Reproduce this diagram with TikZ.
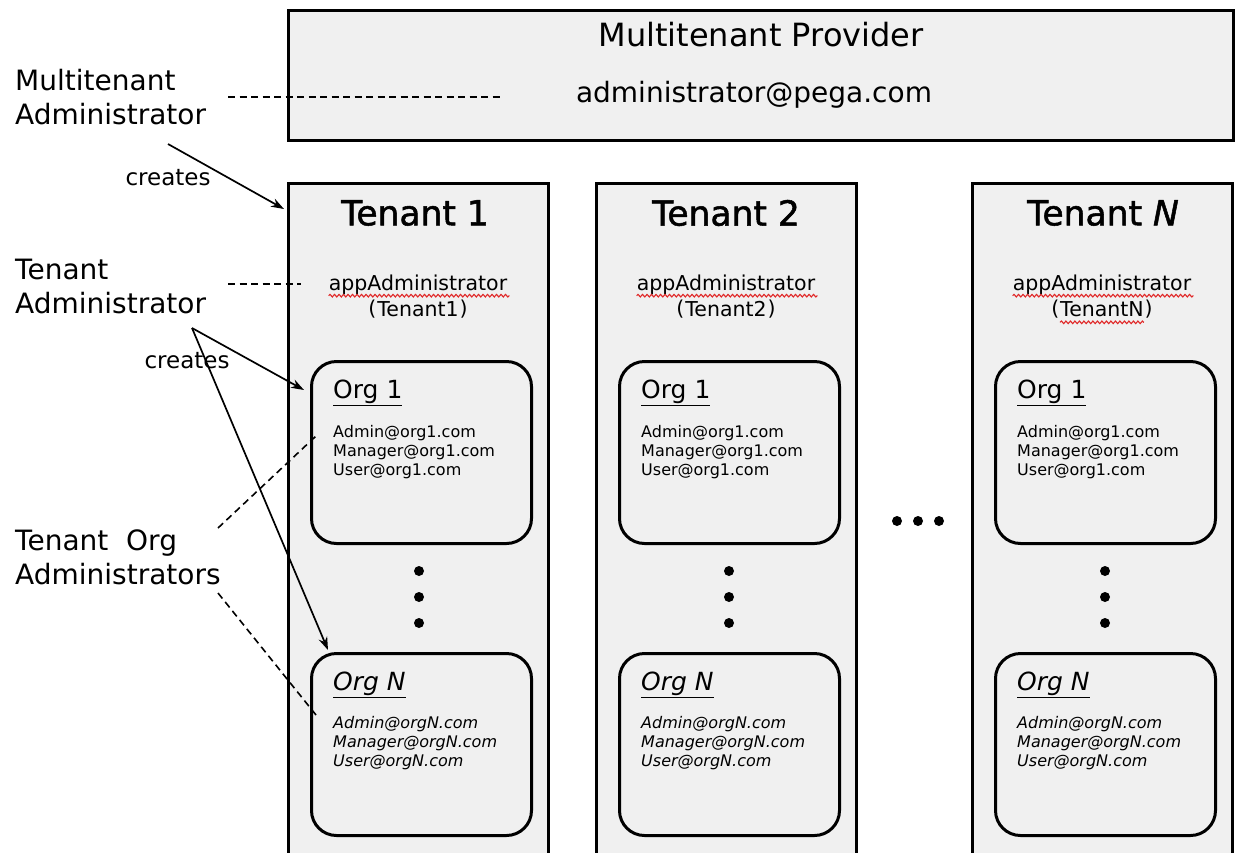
\documentclass[tikz,border=0pt]{standalone}
\usepackage{fontspec}
\setmainfont{DejaVu Sans}
\newfontfamily\tenantfont[FakeBold=1.5]{DejaVu Sans}
\usetikzlibrary{arrows.meta,decorations.pathmorphing,calc,positioning}
\definecolor{panelgray}{HTML}{F0F0F0}
\definecolor{wavyred}{HTML}{E02828}
\begin{document}
\begin{tikzpicture}[x=1pt,y=-1pt,
  panel/.style={draw=black,line width=3pt,fill=panelgray,inner sep=0pt,outer sep=0pt},
  tenantbox/.style={panel,anchor=north west,minimum width=260pt,minimum height=720pt},
  orgbox/.style={draw=black,line width=3pt,fill=panelgray,rounded corners=25pt,anchor=north west,minimum width=220pt,minimum height=182pt,inner sep=0pt},
  provtitle/.style={font=\fontsize{32}{38}\selectfont,inner sep=0pt},
  provmail/.style={font=\fontsize{28}{34}\selectfont,inner sep=0pt},
  sidelabel/.style={font=\fontsize{28}{34}\selectfont,align=left,anchor=west,inner sep=0pt},
  verblabel/.style={font=\fontsize{23}{27}\selectfont,inner sep=0pt},
  tenanttitle/.style={font=\tenantfont\fontsize{34.5}{40}\selectfont,inner sep=0pt},
  appadmin/.style={font=\fontsize{20.5}{24}\selectfont,inner sep=0pt},
  orgtitle/.style={font=\fontsize{25}{30}\selectfont,anchor=west,inner sep=0pt},
  emails/.style={font=\fontsize{16}{19}\selectfont,align=left,anchor=north west,inner sep=0pt},
  wavy/.style={draw=wavyred,line width=1.1pt,decorate,decoration={snake,amplitude=1.3pt,segment length=4.5pt}},
  vdot/.style={circle,fill=black,inner sep=0pt,minimum size=10pt},
  dashline/.style={line width=1.6pt,dash pattern=on 7pt off 4.5pt},
  creates/.style={-{Stealth[length=13pt,width=9pt]},line width=1.7pt},
]
\useasboundingbox (0,0) rectangle (1235,852);
\clip (0,0) rectangle (1235,852);

% provider
\node[panel,anchor=north west,minimum width=945pt,minimum height=130pt] (prov) at (288,10) {};
\node[provtitle] (provname) at (761,35) {Multitenant Provider};
\node[provmail] (provmail) at (754,95) {administrator@pega.com};

% tenants
\foreach \id/\x/\tn in {1/288/Tenant1, 2/596/Tenant2, N/972/TenantN} {
  \node[tenantbox] (t\id) at (\x,183) {};
  \node[appadmin] (t\id-app) at ($(t\id.north)+(0,102)$) {appAdministrator};
  \draw[wavy] ($(t\id-app.base west)+(0,5)$) -- ($(t\id-app.base east)+(2,5)$);
  \node[appadmin] (t\id-tn) at ($(t\id.north)+(0,126)$) {\tn};
  \node[appadmin,left=0.5pt of t\id-tn] (t\id-lp) {(};
  \node[appadmin,right=0.5pt of t\id-tn] (t\id-rp) {)};
  % org 1
  \node[orgbox] (t\id-o1) at ($(t\id.north west)+(22,177)$) {};
  \node[orgtitle] (t\id-o1t) at ($(t\id-o1.north west)+(23,33)$) {\underline{Org 1}};
  \node[emails] (t\id-o1m) at ($(t\id-o1.north west)+(23,65)$) {Admin@org1.com\\Manager@org1.com\\User@org1.com};
  % org N
  \node[orgbox] (t\id-oN) at ($(t\id.north west)+(22,469)$) {};
  \node[orgtitle,font=\fontsize{25}{30}\selectfont\itshape] (t\id-oNt) at ($(t\id-oN.north west)+(23,33)$) {\underline{Org N}};
  \node[emails,font=\fontsize{16}{19}\selectfont\itshape] (t\id-oNm) at ($(t\id-oN.north west)+(23,64)$) {Admin@orgN.com\\Manager@orgN.com\\User@orgN.com};
}
% vertical dots
\foreach \id/\dx in {1/1, 2/3, N/3} {
  \node[vdot] (t\id-d1) at ($(t\id.north)+(\dx,388)$) {};
  \node[vdot] (t\id-d2) at ($(t\id.north)+(\dx,414)$) {};
  \node[vdot] (t\id-d3) at ($(t\id.north)+(\dx,440)$) {};
}
\node[tenanttitle] (t1-title) at ($(t1.north)+(-3,30)$) {Tenant 1};
\node[tenanttitle] (t2-title) at ($(t2.north)+(0,30)$) {Tenant 2};
\node[tenanttitle] (tN-title) at ($(tN.north)+(1,30)$) {Tenant \textit{N}};
\draw[wavy] ($(tN-tn.base west)+(0,6)$) -- ($(tN-tn.base east)+(0,6)$);

% horizontal dots
\node[vdot] (h1) at (897,521) {};
\node[vdot] (h2) at (918,521) {};
\node[vdot] (h3) at (939,521) {};

% side labels
\node[sidelabel] (mta) at (15,97) {Multitenant\\Administrator};
\node[sidelabel] (ta) at (15,286) {Tenant\\Administrator};
\node[sidelabel] (toa) at (15,557) {Tenant~~Org\\Administrators};

% dashed leaders
\coordinate (mta-e) at (228,97);
\coordinate (mta-f) at (500,97);
\draw[dashline] (mta-e) -- (mta-f);
\coordinate (ta-e) at (228,284);
\coordinate (ta-f) at (301,284);
\draw[dashline] (ta-e) -- (ta-f);
\coordinate (toa-a) at (218,528);
\coordinate (toa-b) at (218,593);
\coordinate (toa-c) at (316,436);
\coordinate (toa-d) at (316,715);
\draw[dashline] (toa-a) -- (toa-c);
\draw[dashline] (toa-b) -- (toa-d);

% creates arrows
\coordinate (mta-s) at (168,144);
\draw[creates] (mta-s) -- ($(t1.north west)+(-4,26)$);
\node[verblabel] (cr1) at (168,178) {creates};
\coordinate (ta-s) at (192,328);
\draw[creates] (ta-s) -- ($(t1-o1.north west)+(-6,30)$);
\draw[creates] (ta-s) -- ($(t1-oN.north west)+(18,-2)$);
\node[verblabel] (cr2) at (187,361) {creates};
\end{tikzpicture}
\end{document}
